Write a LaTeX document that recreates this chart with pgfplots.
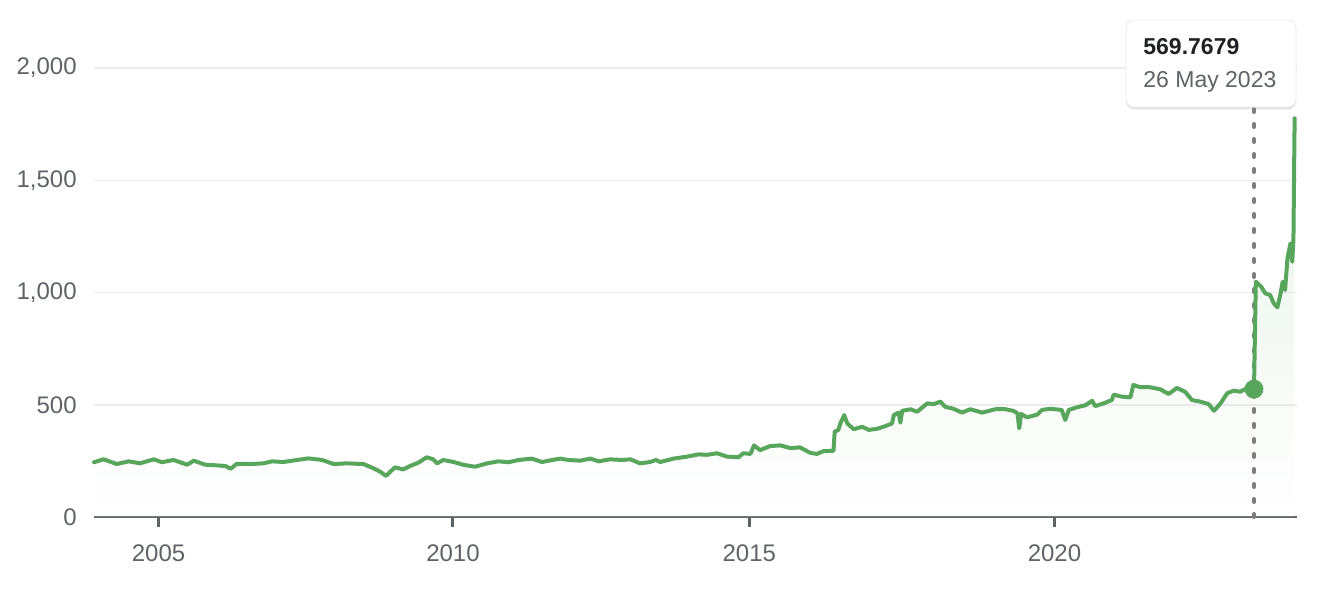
\documentclass[border=0pt]{standalone}
\usepackage{pgfplots}
\pgfplotsset{compat=1.18}
\usepackage{pgfplotstable}
\usepackage{fontspec}
\setmainfont{Liberation Sans}
\usetikzlibrary{shadows}
\definecolor{lgreen}{RGB}{87,166,91}
\definecolor{tickgray}{RGB}{95,99,104}
\definecolor{gridgray}{RGB}{236,236,236}
\definecolor{textdark}{RGB}{32,33,36}
\definecolor{dotgray}{RGB}{125,125,125}

\pgfplotstableread{
x y
2003.92 244
2004.08 257
2004.30 236
2004.50 248
2004.69 239
2004.92 257
2005.06 244
2005.25 254
2005.48 233
2005.59 251
2005.78 233
2005.98 230
2006.12 227
2006.21 215
2006.31 237
2006.54 236
2006.76 239
2006.90 248
2007.09 245
2007.32 254
2007.51 261
2007.74 254
2007.93 236
2008.15 239
2008.43 236
2008.60 217
2008.71 202
2008.81 183
2008.88 202
2008.96 221
2009.10 212
2009.21 227
2009.35 242
2009.49 266
2009.60 257
2009.66 239
2009.77 254
2009.94 245
2010.11 232
2010.30 224
2010.50 239
2010.69 248
2010.86 244
2011.03 254
2011.25 260
2011.42 245
2011.59 254
2011.73 260
2011.86 254
2012.06 251
2012.23 260
2012.37 248
2012.56 257
2012.76 254
2012.90 257
2013.06 239
2013.23 245
2013.33 254
2013.40 245
2013.62 260
2013.85 269
2014.04 279
2014.18 277
2014.35 284
2014.52 269
2014.71 266
2014.79 284
2014.91 281
2014.97 319
2015.07 298
2015.24 316
2015.41 319
2015.58 307
2015.74 310
2015.91 286
2016.02 281
2016.13 293
2016.30 295
2016.32 380
2016.38 388
2016.42 420
2016.48 454
2016.53 417
2016.64 391
2016.78 402
2016.89 388
2017.03 393
2017.14 402
2017.28 417
2017.31 454
2017.39 465
2017.42 420
2017.45 473
2017.59 480
2017.70 469
2017.87 506
2017.98 503
2018.09 514
2018.17 491
2018.31 482
2018.45 465
2018.59 480
2018.79 465
2019.01 480
2019.18 480
2019.31 473
2019.38 462
2019.41 395
2019.44 459
2019.54 444
2019.71 456
2019.79 477
2019.93 482
2020.12 477
2020.18 432
2020.24 477
2020.38 489
2020.52 498
2020.63 518
2020.68 494
2020.82 506
2020.96 521
2020.99 545
2021.13 536
2021.27 533
2021.32 588
2021.44 578
2021.60 578
2021.77 569
2021.91 548
2022.05 575
2022.19 557
2022.30 521
2022.44 514
2022.58 503
2022.67 473
2022.78 506
2022.89 551
2023.00 563
2023.11 558
2023.25 578
2023.34 569.77
2023.37 1048
2023.46 1026
2023.53 996
2023.61 989
2023.67 952
2023.73 934
2023.78 989
2023.82 1048
2023.86 1011
2023.90 1152
2023.95 1219
2023.98 1137
2024.00 1234
2024.02 1776
}\pricedata

\begin{document}
\begin{tikzpicture}
\useasboundingbox (-47pt,-39.5pt) rectangle (621pt,258.5pt);
\begin{axis}[
  at={(0,0)}, anchor=south west,
  scale only axis,
  width=601.5pt, height=224.5pt,
  xmin=2003.92, xmax=2024.06,
  ymin=0, ymax=2000,
  clip=false,
  axis x line*=bottom,
  axis y line*=left,
  y axis line style={draw=none},
  x axis line style={draw=tickgray, line width=1pt},
  xtick={2005,2009.93,2014.89,2020},
  xticklabels={2005,2010,2015,2020},
  ytick={0,500,1000,1500,2000},
  yticklabels={0,500,{1,000},{1,500},{2,000}},
  ytick style={draw=none},
  xtick style={draw=tickgray, line width=1.5pt},
  major tick length=5pt,
  tick align=outside,
  ymajorgrids,
  grid style={draw=gridgray, line width=0.75pt},
  tick label style={font=\fontsize{12}{14}\selectfont, text=tickgray},
  yticklabel style={anchor=east, inner sep=0pt, xshift=-3.5pt},
  xticklabel style={anchor=north, inner sep=0pt, yshift=-8.75pt},
]
\addplot[draw=none, top color=lgreen, bottom color=white, fill opacity=0.14] table[x=x,y=y] {\pricedata} \closedcycle;
\addplot[dotgray, line width=2pt, line cap=round, dash pattern=on 1.5pt off 6pt] coordinates {(2023.34,0) (2023.34,1826)};
\addplot[lgreen, line width=2pt, line join=round, line cap=round, mark=none] table[x=x,y=y] {\pricedata};
\addplot[only marks, mark=*, mark size=4.5pt, lgreen, mark options={draw=lgreen, fill=lgreen}] coordinates {(2023.34,569.77)};
\end{axis}
\draw[draw=black!8, line width=0.4pt, fill=white, rounded corners=4pt, drop shadow={opacity=0.22, shadow xshift=0pt, shadow yshift=-1.2pt}] (516pt,205pt) rectangle (601pt,248.5pt);
\node[anchor=base west, inner sep=0pt, font=\fontsize{11.5}{13}\selectfont\bfseries, text=textdark] at (524.5pt,231pt) {569.7679};
\node[anchor=base west, inner sep=0pt, font=\fontsize{11.5}{13}\selectfont, text=tickgray] at (524.5pt,214.85pt) {26 May 2023};
\end{tikzpicture}
\end{document}
